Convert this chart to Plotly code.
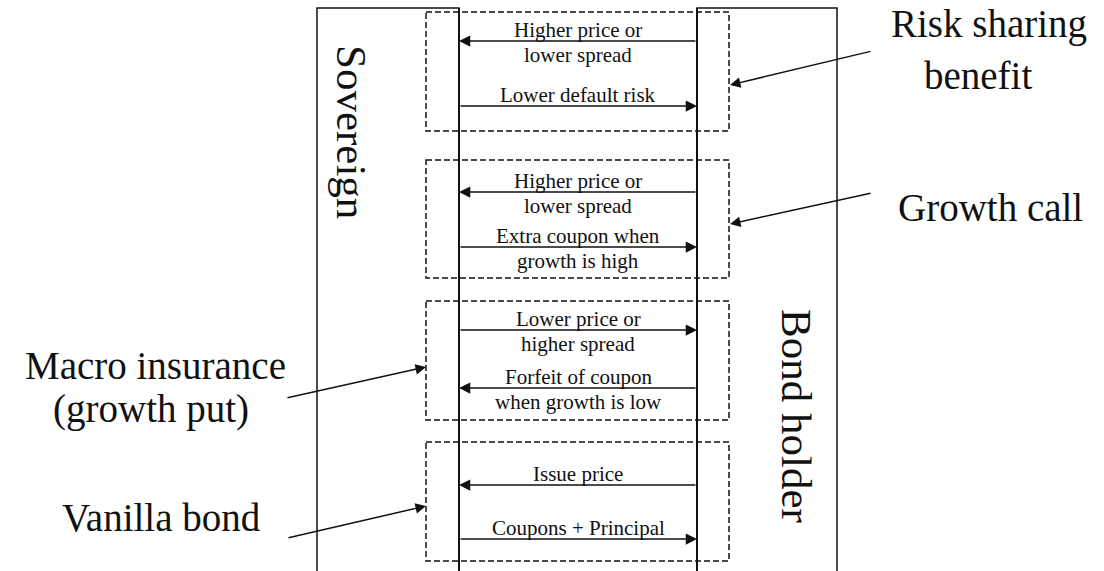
import plotly.graph_objects as go

# parties on each side of the contract
parties = ["Sovereign", "Bond holder"]

# flows between the parties, top to bottom
flow_block = [0, 0, 1, 1, 2, 2, 3, 3]
flow_dir = ["left", "right", "left", "right", "right", "left", "left", "right"]
flow_above = ["Higher price or", "Lower default risk", "Higher price or", "Extra coupon when",
              "Lower price or", "Forfeit of coupon", "Issue price", "Coupons + Principal"]
flow_below = ["lower spread", "", "lower spread", "growth is high",
              "higher spread", "when growth is low", "", ""]

# what each dashed block represents
block_names = [["Risk sharing", "benefit"], ["Growth call"],
               ["Macro insurance", "(growth put)"], ["Vanilla bond"]]

# ---- layout (pixel coordinates of the page, y grows downward) ----
W, H = 1104, 571
FONT = "Liberation Serif, Times New Roman, serif"
INK = "#111111"

sov_x0, sov_x1 = 317, 459
bond_x0, bond_x1 = 697, 837
box_top = 8
dash_x0, dash_x1 = 426, 729
block_top = [12, 160, 301, 442]
block_bottom = [131, 278, 420, 561]
flow_y = [41, 106, 192, 247, 330, 388, 485, 539]

party_pos = [(352, 132), (797, 416)]
name_pos = [[(989, 24), (978, 75)], [(990, 207)],
            [(155, 365), (151, 409)], [(161, 517)]]
# callout arrows: tail -> tip
callout = [((872, 51), (730, 85)), ((872, 193), (730, 224)),
           ((286, 398), (426, 367)), ((287, 538), (426, 506))]

fig = go.Figure()
shapes = []
annotations = []

# party boxes, open at the bottom
for x0, x1 in [(sov_x0, sov_x1), (bond_x0, bond_x1)]:
    shapes.append(dict(type="path", path=f"M{x0},{H + 30} L{x0},{box_top} L{x1},{box_top} L{x1},{H + 30}",
                       line=dict(color=INK, width=1.5)))
shapes.append(dict(type="line", x0=sov_x1, x1=sov_x1, y0=box_top, y1=H + 30, line=dict(color=INK, width=2)))
shapes.append(dict(type="line", x0=bond_x0, x1=bond_x0, y0=box_top, y1=H + 30, line=dict(color=INK, width=2)))

# dashed blocks
for t, b in zip(block_top, block_bottom):
    shapes.append(dict(type="rect", x0=dash_x0, x1=dash_x1, y0=t, y1=b,
                       line=dict(color=INK, width=1.5, dash="6px,3px")))

for (x, y), name in zip(party_pos, parties):
    annotations.append(dict(x=x, y=y, text=name, showarrow=False, textangle=90,
                            font=dict(family=FONT, size=43, color=INK)))

mid = (sov_x1 + bond_x0) / 2
for y, d, above, below in zip(flow_y, flow_dir, flow_above, flow_below):
    tip, tail = (sov_x1, bond_x0) if d == "left" else (bond_x0, sov_x1)
    annotations.append(dict(x=tip, y=y, ax=tail, ay=y, axref="x", ayref="y", text="",
                            showarrow=True, arrowhead=2, arrowsize=1.5, arrowwidth=1.5,
                            arrowcolor=INK, standoff=0))
    annotations.append(dict(x=mid, y=y - 11, text=above, showarrow=False,
                            font=dict(family=FONT, size=21, color=INK)))
    if below:
        annotations.append(dict(x=mid, y=y + 14, text=below, showarrow=False,
                                font=dict(family=FONT, size=21, color=INK)))

for lines, pos in zip(block_names, name_pos):
    for line, (x, y) in zip(lines, pos):
        annotations.append(dict(x=x, y=y, text=line, showarrow=False,
                                font=dict(family=FONT, size=39, color=INK)))

for (tx, ty), (hx, hy) in callout:
    annotations.append(dict(x=hx, y=hy, ax=tx, ay=ty, axref="x", ayref="y", text="",
                            showarrow=True, arrowhead=2, arrowsize=1.4, arrowwidth=1.5,
                            arrowcolor=INK, standoff=0))

fig.update_layout(
    width=W, height=H,
    margin=dict(l=0, r=0, t=0, b=0),
    paper_bgcolor="white", plot_bgcolor="white",
    xaxis=dict(range=[0, W], visible=False, fixedrange=True),
    yaxis=dict(range=[H, 0], visible=False, fixedrange=True),
    shapes=shapes, annotations=annotations,
    showlegend=False,
)

# drop the default body margin so the figure sits at the page corner
fig.write_html("out.html", config={"displayModeBar": False},
               post_script="document.body.style.margin='0px';")
